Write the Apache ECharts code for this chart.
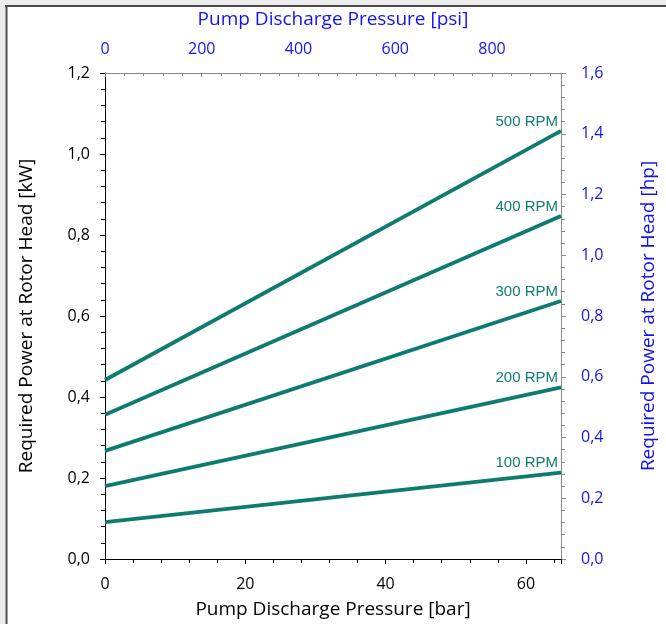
<!DOCTYPE html>
<html>
<head>
<meta charset="utf-8">
<script src="https://cdn.jsdelivr.net/npm/echarts@6/dist/echarts.min.js"></script>
<style>html,body{margin:0;padding:0;background:#fff;}#c{width:666px;height:624px;}</style>
</head>
<body>
<div id="c"></div>
<script>
// Data
const pressureBar = [0, 65];
const rpmLabels = ['100 RPM', '200 RPM', '300 RPM', '400 RPM', '500 RPM'];
const power100 = [0.091, 0.213];
const power200 = [0.180, 0.424];
const power300 = [0.267, 0.637];
const power400 = [0.356, 0.847];
const power500 = [0.442, 1.057];
const allPower = [power100, power200, power300, power400, power500];

const BAR_TO_PSI = 14.5038;
const teal = '#0f7b70';
const blue = '#1212f5';
const fontMain = '"Open Sans", "Noto Sans", sans-serif';
const comma = v => v.toFixed(1).replace('.', ',');

const series = allPower.map((vals, i) => ({
  type: 'line',
  xAxisIndex: 0,
  yAxisIndex: 0,
  symbol: 'circle',
  symbolSize: 0.01,
  showSymbol: true,
  silent: true,
  itemStyle: { color: teal },
  lineStyle: { color: teal, width: 3.8 },
  data: pressureBar.map((x, j) => {
    const d = { value: [x, vals[j]] };
    if (j === pressureBar.length - 1) {
      d.label = {
        show: true,
        formatter: rpmLabels[i],
        position: 'top',
        align: 'right',
        offset: [-3, 3],
        color: teal,
        fontSize: 15,
        fontFamily: '"Liberation Sans", Arial, sans-serif'
      };
    }
    return d;
  })
}));

const chart = echarts.init(document.getElementById('c'), null, { renderer: 'canvas' });
chart.setOption({
  animation: false,
  backgroundColor: '#fff',
  grid: { left: 105, right: 99, top: 73, bottom: 65, containLabel: false },
  graphic: [
    { type: 'rect', shape: { x: 0, y: 0, width: 666, height: 5 }, style: { fill: '#ececec' }, z: 100 },
    { type: 'rect', shape: { x: 0, y: 0, width: 5, height: 624 }, style: { fill: '#ececec' }, z: 100 },
    { type: 'line', shape: { x1: 6.5, y1: 5, x2: 6.5, y2: 624 }, style: { stroke: '#4a4a4a', lineWidth: 2 }, z: 100 },
    { type: 'line', shape: { x1: 5, y1: 6, x2: 666, y2: 6 }, style: { stroke: '#4a4a4a', lineWidth: 2 }, z: 100 }
  ],
  xAxis: [
    {
      type: 'value', position: 'bottom', min: 0, max: 65, interval: 20,
      name: 'Pump Discharge Pressure [bar]', nameLocation: 'middle', nameGap: 41,
      nameTextStyle: { color: '#000', fontSize: 19, fontFamily: fontMain },
      axisLine: { show: true, onZero: false, lineStyle: { color: '#000', width: 1 } },
      axisTick: { show: true, length: 5, lineStyle: { color: '#000' } },
      minorTick: { show: true, splitNumber: 5, length: 4, lineStyle: { color: '#000' } },
      axisLabel: { color: '#000', fontSize: 16, fontFamily: fontMain, margin: 17,
        formatter: v => (v > 64 ? '' : String(v)) },
      splitLine: { show: false }
    },
    {
      type: 'value', position: 'top', min: 0, max: 65 * BAR_TO_PSI, interval: 200,
      name: 'Pump Discharge Pressure [psi]', nameLocation: 'middle', nameGap: 44,
      nameTextStyle: { color: blue, fontSize: 19, fontFamily: fontMain },
      axisLine: { show: true, onZero: false, lineStyle: { color: '#888', width: 1 } },
      axisTick: { show: true, inside: true, length: 4, lineStyle: { color: '#888' } },
      minorTick: { show: true, splitNumber: 5, length: 3, lineStyle: { color: '#888' } },
      axisLabel: { color: blue, fontSize: 16, fontFamily: fontMain, margin: 16,
        formatter: v => (v > 900 ? '' : String(v)) },
      splitLine: { show: false }
    }
  ],
  yAxis: [
    {
      type: 'value', position: 'left', min: 0, max: 1.2, interval: 0.2,
      name: 'Required Power at Rotor Head [kW]', nameLocation: 'middle', nameGap: 69, nameRotate: 90,
      nameTextStyle: { color: '#000', fontSize: 19, fontFamily: fontMain },
      axisLine: { show: true, onZero: false, lineStyle: { color: '#000', width: 1 } },
      axisTick: { show: true, length: 5, lineStyle: { color: '#000' } },
      minorTick: { show: true, splitNumber: 5, length: 4, lineStyle: { color: '#000' } },
      axisLabel: { color: '#000', fontSize: 16, fontFamily: fontMain, margin: 15, formatter: comma },
      splitLine: { show: false }
    },
    {
      type: 'value', position: 'right', min: 0, max: 1.6, interval: 0.2,
      name: 'Required Power at Rotor Head [hp]', nameLocation: 'middle', nameGap: 78, nameRotate: 90,
      nameTextStyle: { color: blue, fontSize: 19, fontFamily: fontMain },
      axisLine: { show: true, onZero: false, lineStyle: { color: '#888', width: 1 } },
      axisTick: { show: true, length: 5, lineStyle: { color: '#888' } },
      minorTick: { show: true, splitNumber: 5, length: 4, lineStyle: { color: '#888' } },
      axisLabel: { color: blue, fontSize: 16, fontFamily: fontMain, margin: 20, formatter: comma },
      splitLine: { show: false }
    }
  ],
  series: series
});
</script>
</body>
</html>
